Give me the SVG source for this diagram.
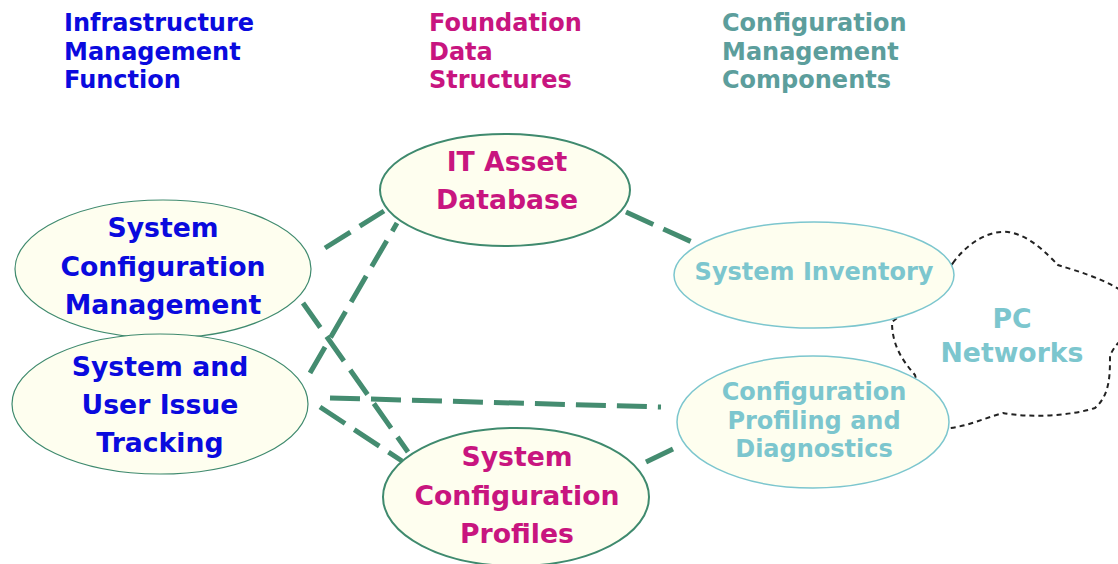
<svg xmlns="http://www.w3.org/2000/svg" width="1118" height="564" viewBox="0 0 1118 564">
<style>
text{font-family:"DejaVu Sans","Verdana",sans-serif;font-weight:bold;}
.h{font-size:24px;}
.n{font-size:26.7px;text-anchor:middle;}
.s{font-size:24px;text-anchor:middle;fill:#7CC6CE;}
.big{font-size:26.7px;}
.blue{fill:#0A0ADE;}
.mag{fill:#C8157F;}
.teal{fill:#5C9E9C;}
.eg{fill:#FEFEEF;stroke:#3F8A6E;stroke-width:2;}
.el{fill:#FEFEEF;stroke:#7CC6CE;stroke-width:1.5;}
.eg1{fill:#FEFEEF;stroke:#3F8A6E;stroke-width:1.2;}
.c{stroke:#448C70;stroke-width:5;stroke-dasharray:30 11;fill:none;}
</style>
<rect width="1118" height="564" fill="#ffffff"/>
<g id="headers">
<text class="h blue" x="64" y="31">Infrastructure</text>
<text class="h blue" x="64" y="60">Management</text>
<text class="h blue" x="64" y="88">Function</text>
<text class="h mag" x="429" y="31">Foundation</text>
<text class="h mag" x="429" y="60">Data</text>
<text class="h mag" x="429" y="88">Structures</text>
<text class="h teal" x="722" y="31">Configuration</text>
<text class="h teal" x="722" y="60">Management</text>
<text class="h teal" x="722" y="88">Components</text>
</g>
<g id="cloud">
<path d="M 953,263 C 968,242 990,230 1008,232 C 1030,235 1048,255 1058,265 C 1080,272 1110,280 1135,300 L 1135,330 C 1125,335 1114,345 1110,356 C 1110,375 1110,395 1095,408 C 1070,416 1030,418 1003,413 C 985,418 968,426 950,428 L 930,420 C 925,400 918,388 915,375 C 902,360 892,345 892,322 L 920,300 Z" fill="#ffffff" stroke="#222222" stroke-width="2" stroke-dasharray="5 4"/>
<text class="s big" x="1012" y="328">PC</text>
<text class="s big" x="1012" y="362">Networks</text>
</g>
<g id="connectors">
<line class="c" x1="626" y1="212" x2="692" y2="242"/>
<line class="c" x1="325" y1="248" x2="384" y2="211"/>
<line class="c" x1="310" y1="373" x2="397" y2="223"/>
<line class="c" x1="303" y1="303" x2="408" y2="452"/>
<line class="c" x1="330" y1="398" x2="661" y2="407"/>
<line class="c" x1="320" y1="407" x2="402" y2="461"/>
<line class="c" x1="646" y1="462" x2="673" y2="449"/>
</g>
<g id="scm">
<ellipse class="eg1" cx="163" cy="269" rx="148" ry="69"/>
<text class="n blue" x="163" y="237">System</text>
<text class="n blue" x="163" y="276">Configuration</text>
<text class="n blue" x="163" y="314">Management</text>
</g>
<g id="suit">
<ellipse class="eg1" cx="160" cy="404" rx="148" ry="70"/>
<text class="n blue" x="160" y="376">System and</text>
<text class="n blue" x="160" y="414">User Issue</text>
<text class="n blue" x="160" y="452">Tracking</text>
</g>
<g id="itadb">
<ellipse class="eg" cx="505" cy="190" rx="125" ry="56"/>
<text class="n mag" x="507" y="171">IT Asset</text>
<text class="n mag" x="507" y="209">Database</text>
</g>
<g id="scp">
<ellipse class="eg" cx="516" cy="497" rx="133" ry="69"/>
<text class="n mag" x="517" y="466">System</text>
<text class="n mag" x="517" y="505">Configuration</text>
<text class="n mag" x="517" y="543">Profiles</text>
</g>
<g id="inventory">
<ellipse class="el" cx="814" cy="275" rx="140" ry="53"/>
<text class="s" x="814" y="280">System Inventory</text>
</g>
<g id="cpd">
<ellipse class="el" cx="813" cy="422" rx="136" ry="66"/>
<text class="s" x="814" y="400">Configuration</text>
<text class="s" x="814" y="429">Profiling and</text>
<text class="s" x="814" y="457">Diagnostics</text>
</g>
</svg>
